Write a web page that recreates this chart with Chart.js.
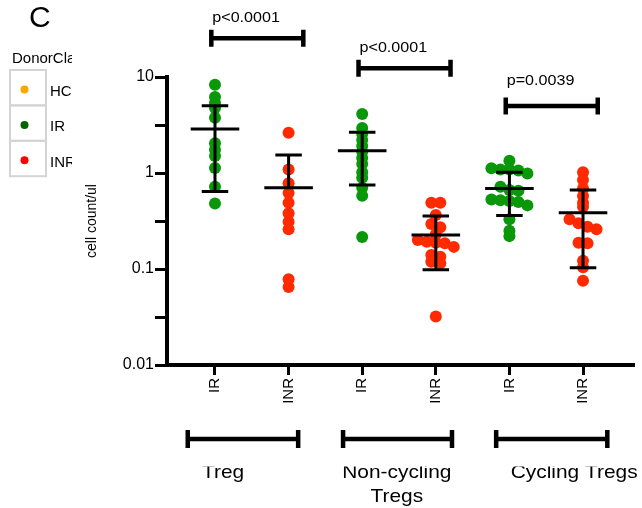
<!DOCTYPE html>
<html>
<head>
<meta charset="utf-8">
<script src="https://cdn.jsdelivr.net/npm/chart.js@4.4.1/dist/chart.umd.min.js"></script>
<style>
  html, body { margin: 0; padding: 0; background: #fff; }
  #wrap { width: 642px; height: 508px; position: relative; }
</style>
</head>
<body>
<div id="wrap"><canvas id="chart"></canvas></div>
<script>
// columns and the cell subsets they belong to
const categories = ['IR', 'INR', 'IR', 'INR', 'IR', 'INR'];
const groupNames = [['Treg'], ['Non-cycling', 'Tregs'], ['Cycling Tregs']];
const legendTitle = 'DonorClass';
const legendLabels = ['HC', 'IR', 'INR'];
const yTickValues = [0.01, 0.0316, 0.1, 0.316, 1, 3.16, 10];

// cell count/ul per donor
const tregIR = [8.3, 6.2, 5.4, 4.75, 3.77, 2.04, 1.75, 1.5, 1.13, 0.72, 0.48];
const tregINR = [2.63, 1.09, 0.78, 0.62, 0.49, 0.38, 0.31, 0.26, 0.078, 0.065];
const nonCycIR = [4.12, 2.94, 2.55, 2.21, 1.91, 1.66, 1.43, 1.24, 1.02, 0.89, 0.70, 0.58, 0.215];
const nonCycINR = [0.49, 0.49, 0.365, 0.294, 0.272, 0.23, 0.20, 0.192, 0.188, 0.185, 0.17, 0.14, 0.134, 0.119, 0.115, 0.032];
const cycIR = [1.34, 1.12, 1.09, 1.09, 1.06, 0.99, 0.72, 0.665, 0.655, 0.53, 0.52, 0.51, 0.50, 0.46, 0.33, 0.25, 0.22];
const cycINR = [1.02, 0.845, 0.69, 0.575, 0.49, 0.445, 0.33, 0.30, 0.276, 0.26, 0.188, 0.185, 0.122, 0.104, 0.0755];

// mean +/- SD lines drawn over each column
const means = [2.87, 0.70, 1.71, 0.226, 0.69, 0.386];
const sdUpper = [5.02, 1.54, 2.65, 0.356, 1.02, 0.665];
const sdLower = [0.64, null, 0.75, 0.098, 0.36, 0.103];

// significance brackets between IR and INR
const pLabels = ['p<0.0001', 'p<0.0001', 'p=0.0039'];
const pLevels = [25.3, 12.3, 5.0];

const columns = [tregIR, tregINR, nonCycIR, nonCycINR, cycIR, cycINR];

const GREEN = '#0a980a';
const RED = '#ff2a00';
const X_MIN = 0.348, X_MAX = 6.679;
const PLOT_W = 466, PLOT_H = 288;
const unitPx = PLOT_W / (X_MAX - X_MIN);
const decadePx = PLOT_H / 3;
const SX = 1.15; // the figure is a bit stretched sideways, text too

// simple swarm: points that sit at nearly the same height go side by side
function swarm(values, center) {
  const sorted = values.map(v => ({ v, py: Math.log10(v) * decadePx }))
    .sort((a, b) => b.py - a.py);
  const rows = [];
  let cur = [];
  sorted.forEach(p => {
    if (cur.length && cur[cur.length - 1].py - p.py > 4) {
      rows.push(cur);
      cur = [];
    }
    cur.push(p);
  });
  rows.push(cur);
  const pts = [];
  rows.forEach(row => {
    row.forEach((p, i) => {
      pts.push({ x: center + (i - (row.length - 1) / 2) * 9 / unitPx, y: p.v });
    });
  });
  return pts;
}

const datasets = columns.map((vals, i) => ({
  label: categories[i],
  data: swarm(vals, i + 1),
  backgroundColor: i % 2 === 0 ? GREEN : RED,
  borderWidth: 0,
  pointRadius: 6,
  pointHoverRadius: 6
}));

function isPow10(v) {
  const l = Math.log10(v);
  return Math.abs(l - Math.round(l)) < 1e-6;
}

function stretchedText(ctx, text, x, y, align, sx) {
  ctx.save();
  ctx.translate(x, y);
  ctx.scale(sx, 1);
  ctx.textAlign = align;
  ctx.fillText(text, 0, 0);
  ctx.restore();
}

function bracket(ctx, x1, x2, y, cap) {
  ctx.beginPath();
  ctx.moveTo(x1, y);
  ctx.lineTo(x2, y);
  ctx.moveTo(x1, y - cap);
  ctx.lineTo(x1, y + cap);
  ctx.moveTo(x2, y - cap);
  ctx.lineTo(x2, y + cap);
  ctx.stroke();
}

const figureExtras = {
  id: 'figureExtras',
  afterDatasetsDraw(chart) {
    const { ctx, scales: { x, y } } = chart;
    ctx.save();
    ctx.strokeStyle = '#000';
    ctx.lineWidth = 3;
    means.forEach((m, i) => {
      const g = i + 1;
      const cx = x.getPixelForValue(g);
      const ym = y.getPixelForValue(m);
      const yu = y.getPixelForValue(sdUpper[i]);
      const yl = sdLower[i] == null ? ym : y.getPixelForValue(sdLower[i]);
      ctx.beginPath();
      ctx.moveTo(x.getPixelForValue(g - 0.33), ym);
      ctx.lineTo(x.getPixelForValue(g + 0.33), ym);
      ctx.moveTo(cx, yu);
      ctx.lineTo(cx, yl);
      ctx.moveTo(x.getPixelForValue(g - 0.18), yu);
      ctx.lineTo(x.getPixelForValue(g + 0.18), yu);
      if (sdLower[i] != null) {
        ctx.moveTo(x.getPixelForValue(g - 0.18), yl);
        ctx.lineTo(x.getPixelForValue(g + 0.18), yl);
      }
      ctx.stroke();
    });
    ctx.restore();
  },
  afterDraw(chart) {
    const { ctx, chartArea, scales: { x, y } } = chart;
    ctx.save();
    ctx.fillStyle = '#000';
    ctx.strokeStyle = '#000';
    ctx.textBaseline = 'alphabetic';

    // panel letter
    ctx.font = '30px "Liberation Sans", Arial, sans-serif';
    ctx.textAlign = 'left';
    ctx.fillText('C', 29, 27);

    // p-value brackets
    ctx.lineWidth = 4.5;
    ctx.font = '14px "Liberation Sans", Arial, sans-serif';
    pLabels.forEach((lab, i) => {
      const a = 2 * i + 1, b = 2 * i + 2;
      const x1 = x.getPixelForValue(a - 0.05);
      const x2 = x.getPixelForValue(b + 0.2);
      const by = y.getPixelForValue(pLevels[i]);
      bracket(ctx, x1, x2, by, 8.5);
      stretchedText(ctx, lab, x1 + 1, by - (i === 2 ? 21 : 16), 'left', SX);
    });

    // group brackets under the axis
    const spans = [[0.63, 2.13], [2.74, 4.22], [4.82, 6.33]];
    const labelCenters = [1.11, 3.47, 5.88];
    const gy = chartArea.bottom + 74;
    spans.forEach(s => bracket(ctx, x.getPixelForValue(s[0]), x.getPixelForValue(s[1]), gy, 9));

    // group names, their tops cut off as in the figure
    ctx.save();
    ctx.beginPath();
    ctx.rect(0, chartArea.bottom + 101.5, chart.width, chart.height);
    ctx.clip();
    ctx.font = '19px "Liberation Sans", Arial, sans-serif';
    groupNames.forEach((lines, i) => {
      lines.forEach((t, k) => {
        stretchedText(ctx, t, x.getPixelForValue(labelCenters[i]), chartArea.bottom + 113 + k * 24, 'center', 1.1);
      });
    });
    ctx.restore();

    // legend, cut off on the right as in the figure
    ctx.save();
    ctx.beginPath();
    ctx.rect(0, 0, 72, chart.height);
    ctx.clip();
    ctx.font = '15px "Liberation Sans", Arial, sans-serif';
    ctx.textAlign = 'left';
    ctx.fillText(legendTitle, 12, 63);
    const legendColors = ['#ffa500', '#006400', '#ff0000'];
    ctx.lineWidth = 2;
    ctx.strokeStyle = '#d4d4d4';
    legendLabels.forEach((lab, i) => {
      const top = 70 + i * 35.4;
      ctx.strokeRect(10, top, 36, 35.4);
      ctx.fillStyle = legendColors[i];
      ctx.beginPath();
      ctx.arc(24.5, top + 19.5, 4, 0, Math.PI * 2);
      ctx.fill();
      ctx.fillStyle = '#000';
      ctx.fillText(lab, 50, top + 26);
    });
    ctx.restore();

    ctx.restore();
  }
};

Chart.defaults.font.family = '"Liberation Sans", Arial, sans-serif';
Chart.defaults.color = '#000';

new Chart(document.getElementById('chart'), {
  type: 'scatter',
  data: { datasets },
  options: {
    responsive: true,
    maintainAspectRatio: false,
    animation: false,
    events: [],
    layout: { padding: { left: 80, top: 77, right: 9, bottom: 0 } },
    plugins: {
      legend: { display: false },
      tooltip: { enabled: false }
    },
    scales: {
      x: {
        type: 'linear',
        min: X_MIN,
        max: X_MAX,
        afterBuildTicks: s => { s.ticks = categories.map((c, i) => ({ value: i + 1 })); },
        afterFit: s => { s.height = 143; },
        ticks: {
          autoSkip: false,
          minRotation: 90,
          maxRotation: 90,
          padding: 3,
          font: { size: 15 },
          callback: v => categories[Math.round(v) - 1]
        },
        grid: { drawOnChartArea: false, drawTicks: true, tickLength: 10, lineWidth: 3, color: '#000' },
        border: { display: true, width: 4, color: '#000' }
      },
      y: {
        type: 'logarithmic',
        min: 0.01,
        max: 10,
        afterBuildTicks: s => { s.ticks = yTickValues.map(v => ({ value: v })); },
        afterFit: s => { s.width = 87; },
        ticks: {
          padding: 1,
          font: { size: 16 },
          callback: v => isPow10(v) ? String(v) : ''
        },
        grid: { drawOnChartArea: false, drawTicks: true, tickLength: 12, lineWidth: 3, color: '#000' },
        border: { display: true, width: 4, color: '#000' },
        title: {
          display: true,
          text: 'cell count/ul',
          font: { size: 14 },
          padding: { top: 4, bottom: 0 }
        }
      }
    }
  },
  plugins: [figureExtras]
});
</script>
</body>
</html>
